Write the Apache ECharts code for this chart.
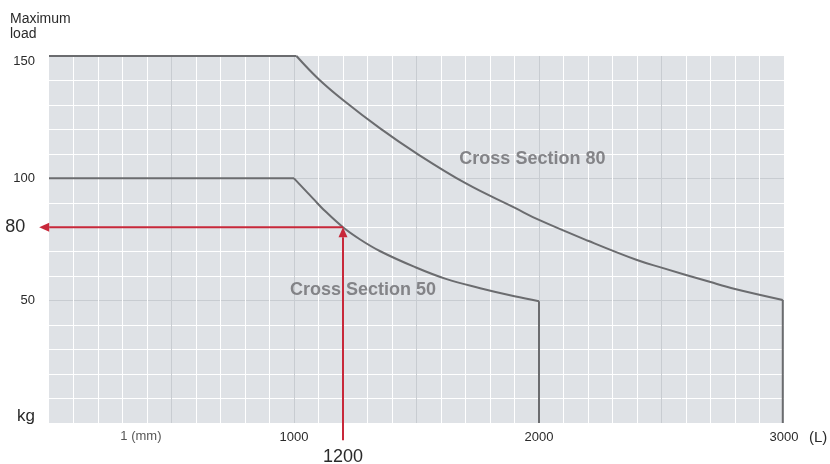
<!DOCTYPE html>
<html>
<head>
<meta charset="utf-8">
<title>Maximum load</title>
<script src="https://cdn.jsdelivr.net/npm/echarts@6/dist/echarts.min.js"></script>
<style>
  html, body { margin: 0; padding: 0; background: #fff; }
  #chart { width: 830px; height: 464px; }
</style>
</head>
<body>
<div id="chart"></div>
<script>
// length (mm) vs maximum load (kg)
const cs80Length = [0, 1010, 1100, 1200, 1350, 1500, 1700, 1900, 2000, 2200, 2400, 2500, 2700, 2800, 2995, 2995];
const cs80Load = [150, 150, 140.6, 132, 120.5, 110.2, 98, 88, 83, 74.5, 66.6, 63.5, 57.6, 54.8, 50.3, 0];
const cs50Length = [0, 1000, 1080, 1120, 1200, 1270, 1350, 1490, 1620, 1760, 1900, 2000, 2000];
const cs50Load = [100, 100, 91.5, 87.3, 80, 75, 70.3, 63.9, 58.9, 55.1, 51.8, 49.8, 0];

const xTicks = [1000, 2000, 3000];
const yTicks = [0, 50, 100, 150];
const yTickText = ['kg', '50', '100', '150'];

// reading example: 1200 mm -> 80 kg, arrows run out past the plot
const readLength = 1200;
const readLoad = 80;
const arrowFromLoad = -7;
const arrowToLength = -40;
const arrowLabels = [String(readLoad), String(readLength)];

const sectionNames = ['Cross Section 80', 'Cross Section 50'];
const sectionAt = [[1973, 108], [1282, 54.4]];
const unitName = '1 (mm)';
const unitAt = [375, -5.6];

const font = '"Liberation Sans", Arial, Helvetica, sans-serif';
const curveColor = '#6b6c6f';
const redColor = '#c8283a';
const textColor = '#2a2a2a';

const chart = echarts.init(document.getElementById('chart'));

function curveSeries(xs, ys) {
  const pts = xs.map((x, i) => [x, ys[i]]);
  const n = pts.length;
  const base = {
    type: 'line',
    showSymbol: false,
    silent: true,
    clip: false,
    z: 3,
    lineStyle: { color: curveColor, width: 2 }
  };
  return [
    Object.assign({}, base, { data: pts.slice(0, 2) }),
    Object.assign({}, base, { data: pts.slice(1, n - 1), smooth: 0.4 }),
    Object.assign({}, base, { data: pts.slice(n - 2) })
  ];
}

function renderArrow(params, api) {
  const p1 = api.coord([api.value(0), api.value(1)]);
  const p2 = api.coord([api.value(2), api.value(3)]);
  const dx = p2[0] - p1[0];
  const dy = p2[1] - p1[1];
  const len = Math.sqrt(dx * dx + dy * dy);
  const ux = dx / len, uy = dy / len;
  const head = 10, half = 4.5;
  const bx = p2[0] - ux * head, by = p2[1] - uy * head;
  const idx = params.dataIndex;
  const text = idx === 0
    ? { type: 'text', style: { text: arrowLabels[idx], x: p2[0] - 14, y: p2[1], align: 'right', verticalAlign: 'middle', fill: textColor, font: '18px ' + font } }
    : { type: 'text', style: { text: arrowLabels[idx], x: p1[0], y: p1[1] + 8, align: 'center', verticalAlign: 'top', fill: textColor, font: '18px ' + font } };
  return {
    type: 'group',
    children: [
      { type: 'line', shape: { x1: p1[0], y1: p1[1], x2: bx, y2: by }, style: { stroke: redColor, lineWidth: 2 } },
      {
        type: 'polygon',
        shape: { points: [p2, [bx - uy * half, by + ux * half], [bx + uy * half, by - ux * half]] },
        style: { fill: redColor }
      },
      text
    ]
  };
}

const option = {
  animation: false,
  title: {
    text: 'Maximum\nload',
    left: 10,
    top: 12,
    padding: 0,
    textStyle: { fontSize: 14, fontWeight: 'normal', color: textColor, lineHeight: 15, fontFamily: font }
  },
  grid: {
    left: 49,
    right: 46,
    top: 56,
    bottom: 41,
    show: true,
    backgroundColor: '#dfe2e6',
    borderWidth: 0,
    outerBoundsMode: 'none',
    containLabel: false
  },
  xAxis: {
    type: 'value',
    min: 0,
    max: 3000,
    interval: 500,
    name: '(L)',
    nameLocation: 'end',
    nameGap: 25,
    nameTextStyle: { fontSize: 15, color: textColor, verticalAlign: 'top', padding: [7, 0, 0, 0], fontFamily: font },
    axisLine: { show: false },
    axisTick: { show: false },
    axisLabel: {
      formatter: v => (xTicks.indexOf(v) >= 0 ? String(v) : ''),
      color: textColor,
      fontSize: 13,
      margin: 8,
      fontFamily: font
    },
    splitLine: { show: true, showMinLine: false, showMaxLine: false, lineStyle: { color: '#c8ccd1', width: 1 } },
    minorTick: { show: false, splitNumber: 5 },
    minorSplitLine: { show: true, lineStyle: { color: '#ffffff', width: 1 } }
  },
  yAxis: {
    type: 'value',
    min: 0,
    max: 150,
    interval: 50,
    axisLine: { show: false },
    axisTick: { show: false },
    axisLabel: {
      formatter: v => {
        const i = yTicks.indexOf(v);
        if (i < 0) return '';
        if (v === 0) return '{kg|' + yTickText[i] + '}';
        if (v === 150) return '{top|' + yTickText[i] + '}';
        return yTickText[i];
      },
      color: textColor,
      fontSize: 13,
      margin: 14,
      fontFamily: font,
      rich: {
        kg: { fontSize: 17, color: textColor, padding: [0, 0, 14, 0], fontFamily: font },
        top: { fontSize: 13, color: textColor, padding: [11, 0, 0, 0], fontFamily: font }
      }
    },
    splitLine: { show: true, showMinLine: false, showMaxLine: false, lineStyle: { color: '#c8ccd1', width: 1 } },
    minorTick: { show: false, splitNumber: 5 },
    minorSplitLine: { show: true, lineStyle: { color: '#ffffff', width: 1 } }
  },
  series: [].concat(
    curveSeries(cs80Length, cs80Load),
    curveSeries(cs50Length, cs50Load),
    [
      {
        type: 'custom',
        clip: false,
        silent: true,
        z: 5,
        data: [
          [readLength, readLoad, arrowToLength, readLoad],
          [readLength, arrowFromLoad, readLength, readLoad]
        ],
        renderItem: renderArrow
      },
      {
        type: 'scatter',
        clip: false,
        silent: true,
        symbol: 'circle',
        symbolSize: 1,
        itemStyle: { color: 'rgba(0,0,0,0)' },
        z: 4,
        label: {
          show: true,
          position: 'inside',
          formatter: '{b}',
          color: curveColor,
          fontSize: 18,
          fontWeight: 'bold',
          fontFamily: font
        },
        data: sectionNames.map((name, i) => ({ name: name, value: sectionAt[i] })).concat([
          {
            name: unitName,
            value: unitAt,
            label: { color: textColor, fontSize: 13, fontWeight: 'normal' }
          }
        ])
      }
    ]
  )
};

chart.setOption(option);
</script>
</body>
</html>
